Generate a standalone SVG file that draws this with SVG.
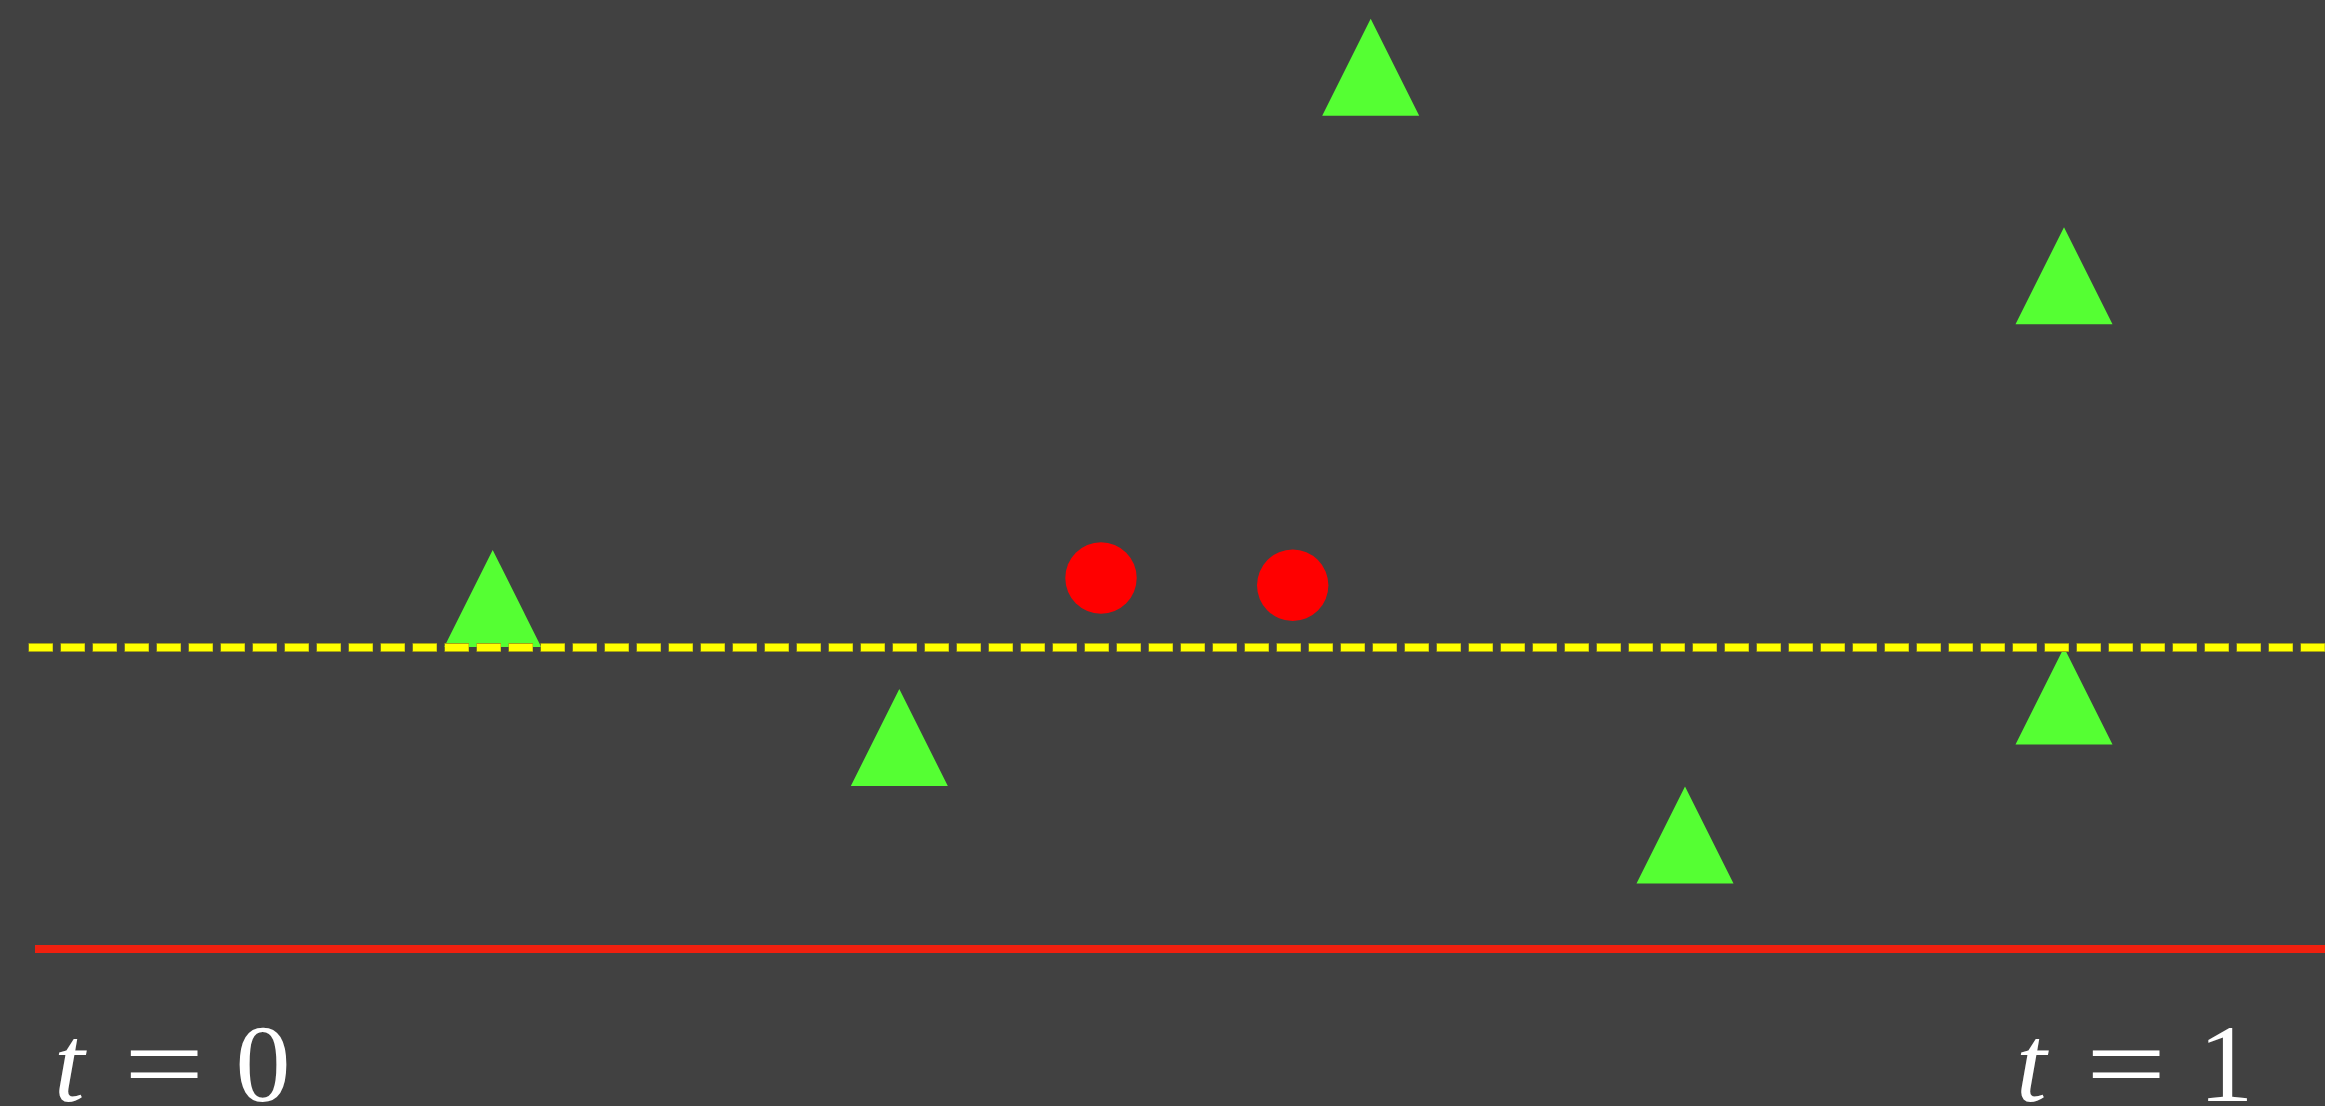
<svg xmlns="http://www.w3.org/2000/svg" width="2325" height="1106" viewBox="0 0 2325 1106">
  <style>
    .tri { fill: #55ff33; }
    .pt { fill: #ff0000; }
    .lbl { font-family: "Liberation Serif", "DejaVu Serif", serif; font-size: 110px; fill: #ffffff; }
    .it { font-style: italic; }
  </style>
  <defs>
    <polygon id="triShape" points="0,0 48.5,97 -48.5,97"/>
  </defs>
  <rect x="0" y="0" width="2325" height="1106" fill="#414141"/>

  <g id="triangles">
    <use id="tri1" href="#triShape" class="tri" x="492.7" y="550"/>
    <use id="tri2" href="#triShape" class="tri" x="1370.7" y="18.7"/>
    <use id="tri3" href="#triShape" class="tri" x="2064" y="227.3"/>
    <use id="tri4" href="#triShape" class="tri" x="2064" y="647.5"/>
    <use id="tri5" href="#triShape" class="tri" x="899.3" y="689"/>
    <use id="tri6" href="#triShape" class="tri" x="1685" y="786.5"/>
  </g>

  <g id="points">
    <circle id="pt1" class="pt" cx="1101" cy="578" r="35.7"/>
    <circle id="pt2" class="pt" cx="1292.7" cy="585.3" r="35.7"/>
  </g>

  <g id="lines">
    <line x1="28.5" y1="647.5" x2="2325" y2="647.5" stroke="#a8a410" stroke-width="9" stroke-dasharray="24.5 7.5"/>
    <line x1="29" y1="647.5" x2="2325" y2="647.5" stroke="#ffff00" stroke-width="7" stroke-dasharray="23.5 8.5"/>
    <line x1="35" y1="949" x2="2325" y2="949" stroke="#f0200f" stroke-width="8"/>
  </g>

  <g id="label-t0">
    <text class="lbl it" x="54" y="1101">t</text>
    <text class="lbl" x="0" y="1101" text-anchor="middle" transform="translate(164,0) scale(1.3,1)">=</text>
    <text class="lbl" x="263" y="1101" text-anchor="middle">0</text>
  </g>
  <g id="label-t1">
    <text class="lbl it" x="2016" y="1101">t</text>
    <text class="lbl" x="0" y="1101" text-anchor="middle" transform="translate(2126,0) scale(1.3,1)">=</text>
    <text class="lbl" x="2226" y="1101" text-anchor="middle">1</text>
  </g>
</svg>
